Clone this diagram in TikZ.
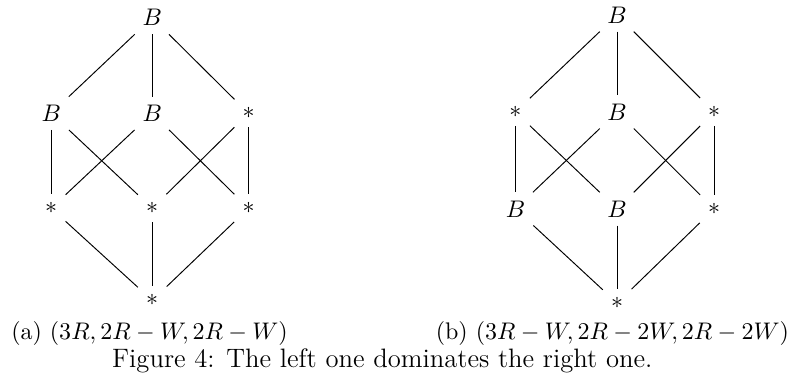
\documentclass[tikz,border=0pt]{standalone}
\usetikzlibrary{positioning}
\tikzset{
  elem/.style={inner sep=3.3pt},
  cover/.style={line width=0.4pt,color=black},
  subcap/.style={anchor=base,font=\normalsize}
}
\begin{document}
\begin{tikzpicture}
  \useasboundingbox (0,0) rectangle (11.63,-5.64);

  %% left lattice
  \node[elem] (ltop) at (2.23,-0.26) {$B$};
  \node[elem] (la) at (0.75,-1.66) {$B$};
  \node[elem] (lb) at (2.23,-1.66) {$B$};
  \node[elem] (lc) at (3.64,-1.66) {$*$};
  \node[elem] (lx) at (0.75,-3.05) {$*$};
  \node[elem] (ly) at (2.23,-3.05) {$*$};
  \node[elem] (lz) at (3.64,-3.05) {$*$};
  \node[elem] (lbot) at (2.23,-4.40) {$*$};

  %% right lattice
  \node[elem] (rtop) at (9.04,-0.22) {$B$};
  \node[elem] (ra) at (7.55,-1.64) {$*$};
  \node[elem] (rb) at (9.04,-1.64) {$B$};
  \node[elem] (rc) at (10.46,-1.64) {$*$};
  \node[elem] (rx) at (7.55,-3.06) {$B$};
  \node[elem] (ry) at (9.04,-3.06) {$B$};
  \node[elem] (rz) at (10.46,-3.06) {$*$};
  \node[elem] (rbot) at (9.04,-4.44) {$*$};

  %% cover relations
  \foreach \s in {l,r}{
    \draw[cover] (\s top) -- (\s a);
    \draw[cover] (\s top) -- (\s b);
    \draw[cover] (\s top) -- (\s c);
    \draw[cover] (\s a) -- (\s x);
    \draw[cover] (\s a) -- (\s y);
    \draw[cover] (\s b) -- (\s x);
    \draw[cover] (\s b) -- (\s z);
    \draw[cover] (\s c) -- (\s y);
    \draw[cover] (\s c) -- (\s z);
    \draw[cover] (\s x) -- (\s bot);
    \draw[cover] (\s y) -- (\s bot);
    \draw[cover] (\s z) -- (\s bot);
  }

  %% captions
  \node[subcap] (capa) at (2.19,-4.98) {(a) $(3R, 2R-W, 2R-W)$};
  \node[subcap] (capb) at (8.97,-4.98) {(b) $(3R-W, 2R-2W, 2R-2W)$};
  \node[subcap,font=\fontsize{11.1}{13}\selectfont] (figcap) at (5.60,-5.38)
    {Figure 4: The left one dominates the right one.};
\end{tikzpicture}
\end{document}
